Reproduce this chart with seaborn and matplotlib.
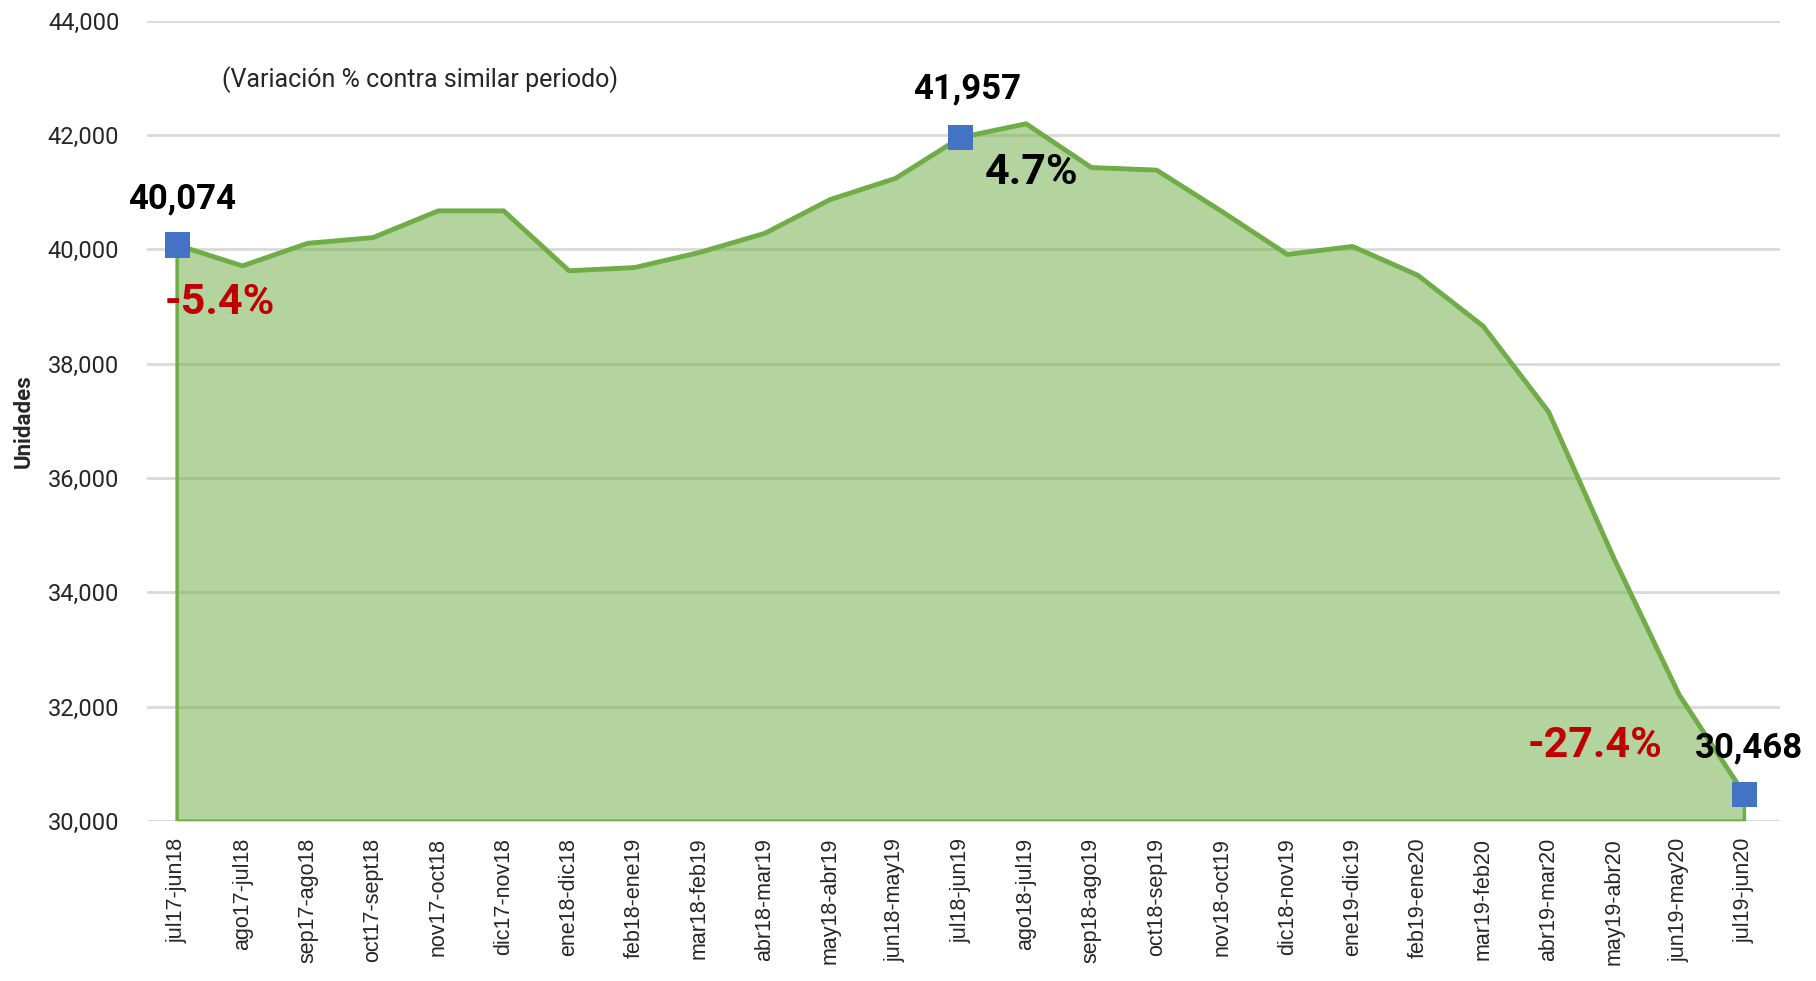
import numpy as np
import pandas as pd
import seaborn as sns
import matplotlib.pyplot as plt
from matplotlib.ticker import FuncFormatter

periodos = ['jul17-jun18', 'ago17-jul18', 'sep17-ago18', 'oct17-sept18', 'nov17-oct18',
            'dic17-nov18', 'ene18-dic18', 'feb18-ene19', 'mar18-feb19', 'abr18-mar19',
            'may18-abr19', 'jun18-may19', 'jul18-jun19', 'ago18-jul19', 'sep18-ago19',
            'oct18-sep19', 'nov18-oct19', 'dic18-nov19', 'ene19-dic19', 'feb19-ene20',
            'mar19-feb20', 'abr19-mar20', 'may19-abr20', 'jun19-may20', 'jul19-jun20']
unidades = [40074, 39710, 40105, 40205, 40673, 40673, 39625, 39680, 39945, 40280,
            40870, 41240, 41957, 42195, 41430, 41385, 40660, 39910, 40050, 39545,
            38655, 37160, 34600, 32210, 30468]
destacados = [0, 12, 24]
variaciones = ['-5.4%', '4.7%', '-27.4%']
color_var = ['#C00000', 'black', '#C00000']

yticks = list(range(30000, 44001, 2000))

df = pd.DataFrame({'periodo': periodos, 'unidades': unidades})
df['x'] = np.arange(len(df))

sns.set_theme(style='white')
plt.rcParams['font.family'] = ['Roboto', 'DejaVu Sans']

fig = plt.figure(figsize=(18.16, 9.81), dpi=100)
ax = fig.add_axes([0.081, 0.163, 0.899, 0.816])

verde = '#70AD47'
ax.fill_between(df['x'], df['unidades'], 30000, color=verde, alpha=0.52, linewidth=0, zorder=2)
ax.fill_between(df['x'], df['unidades'], 30000, facecolor='none', edgecolor=verde, linewidth=2.5, zorder=3)
sns.lineplot(data=df, x='x', y='unidades', color=verde, linewidth=3.5, ax=ax, zorder=4)

pts = df.iloc[destacados]
sns.scatterplot(data=pts, x='x', y='unidades', marker='s', s=330, color='#4472C4',
                edgecolor='none', ax=ax, zorder=5)

# etiquetas de valor y variación
off_val = [(5, 46), (6, 48), (5, 46)]
off_var = [(43, -57), (71, -35), (-149, 49)]
for k, i in enumerate(destacados):
    xv, yv = df['x'][i], df['unidades'][i]
    ax.annotate(f'{yv:,}', (xv, yv), xytext=off_val[k], textcoords='offset pixels',
                ha='center', va='center', fontsize=25, fontweight='bold', color='black', zorder=6)
    ax.annotate(variaciones[k], (xv, yv), xytext=off_var[k], textcoords='offset pixels',
                ha='center', va='center', fontsize=31, fontweight='bold', color=color_var[k], zorder=6)

ax.text(0.167, 0.926, '(Variación % contra similar periodo)', transform=ax.transAxes,
        ha='center', va='center', fontsize=18)

ax.set_xlim(-0.46, 24.54)
ax.set_ylim(30000, 44000)
ax.set_yticks(yticks)
ax.yaxis.set_major_formatter(FuncFormatter(lambda v, p: f'{int(v):,}'))
ax.set_xticks(df['x'])
ax.set_xticklabels(periodos, rotation=90, fontsize=15.5, family=['Liberation Sans', 'DejaVu Sans'])
ax.tick_params(axis='y', labelsize=17, pad=20, length=0)
ax.tick_params(axis='x', pad=12, length=0)
ax.grid(axis='y', color='#D9D9D9', linewidth=2, zorder=1)
ax.set_axisbelow(True)
for s in ax.spines.values():
    s.set_visible(False)

ax.set_xlabel('')
ax.set_ylabel('Unidades', fontsize=16, fontweight='bold')
ax.yaxis.set_label_coords(-0.069, 0.5)

fig.savefig('out.png', dpi=100)
